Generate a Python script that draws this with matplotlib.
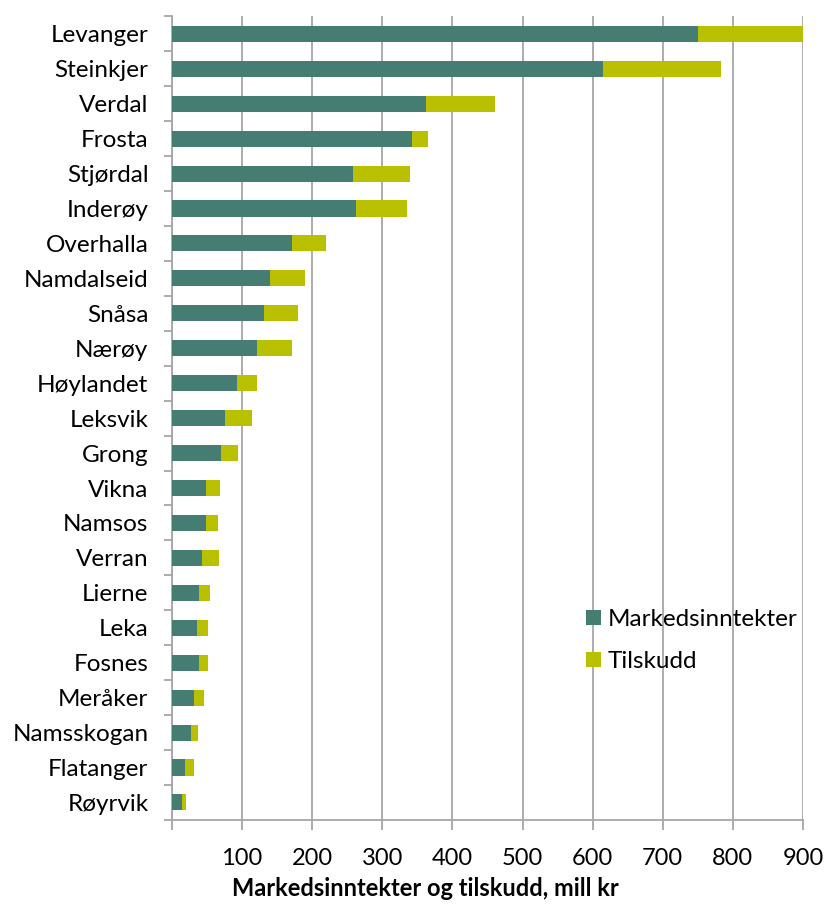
import numpy as np
import matplotlib.pyplot as plt

plt.rcParams['font.family'] = ['Lato', 'DejaVu Sans']

kommuner = ['Levanger', 'Steinkjer', 'Verdal', 'Frosta', 'Stjørdal', 'Inderøy',
            'Overhalla', 'Namdalseid', 'Snåsa', 'Nærøy', 'Høylandet', 'Leksvik',
            'Grong', 'Vikna', 'Namsos', 'Verran', 'Lierne', 'Leka', 'Fosnes',
            'Meråker', 'Namsskogan', 'Flatanger', 'Røyrvik']
marked = [750, 615, 362, 342, 258, 263, 171, 140, 131, 121, 92, 75, 70,
          48, 48, 43, 38, 36, 38, 32, 27, 19, 14]
tilskudd = [150, 168, 99, 23, 82, 72, 49, 50, 49, 50, 29, 39, 24,
            20, 18, 24, 16, 16, 14, 13, 10, 13, 6]

green = '#467D73'
yellow = '#B9C000'
grid = '#A6A6A6'

fig = plt.figure(figsize=(8.29, 9.07), dpi=100)
ax = fig.add_axes([0.2075, 0.096, 0.761, 0.886])

y = np.arange(len(kommuner))
ax.barh(y, marked, height=0.46, color=green, label='Markedsinntekter', zorder=3)
ax.barh(y, tilskudd, left=marked, height=0.46, color=yellow, label='Tilskudd', zorder=3)

ax.set_ylim(len(kommuner) - 0.5, -0.5)
ax.set_xlim(0, 900)
ax.set_xticks(np.arange(0, 901, 100))
ax.set_xticklabels([''] + [str(v) for v in range(100, 901, 100)], fontsize=17)
ax.xaxis.grid(True, color=grid, linewidth=1.3, zorder=0)
ax.tick_params(axis='x', direction='out', length=7, color=grid, width=1.3, pad=13)

ax.set_yticks(y)
ax.set_yticklabels(kommuner, fontsize=17.5)
ax.set_yticks(np.arange(-0.5, len(kommuner), 1), minor=True)
ax.tick_params(axis='y', which='major', length=0, pad=17)
ax.tick_params(axis='y', which='minor', direction='out', length=6, color=grid, width=1.3)

for s in ['top', 'right']:
    ax.spines[s].set_visible(False)
for s in ['left', 'bottom']:
    ax.spines[s].set_color(grid)
    ax.spines[s].set_linewidth(1.3)

# aksetittelen står litt til venstre for midten, som i originalen
fig.text(425 / 829, 1 - 888 / 907, 'Markedsinntekter og tilskudd, mill kr',
         fontsize=17, fontweight='bold', ha='center', va='center')

ax.legend(loc='upper left', bbox_to_anchor=(574 / 829, 1 - 597 / 907),
          bbox_transform=fig.transFigure, frameon=False, borderpad=0,
          fontsize=17.5, handlelength=0.6, handleheight=0.6,
          handletextpad=0.3, labelspacing=0.85)

fig.savefig('out.png', dpi=100)
